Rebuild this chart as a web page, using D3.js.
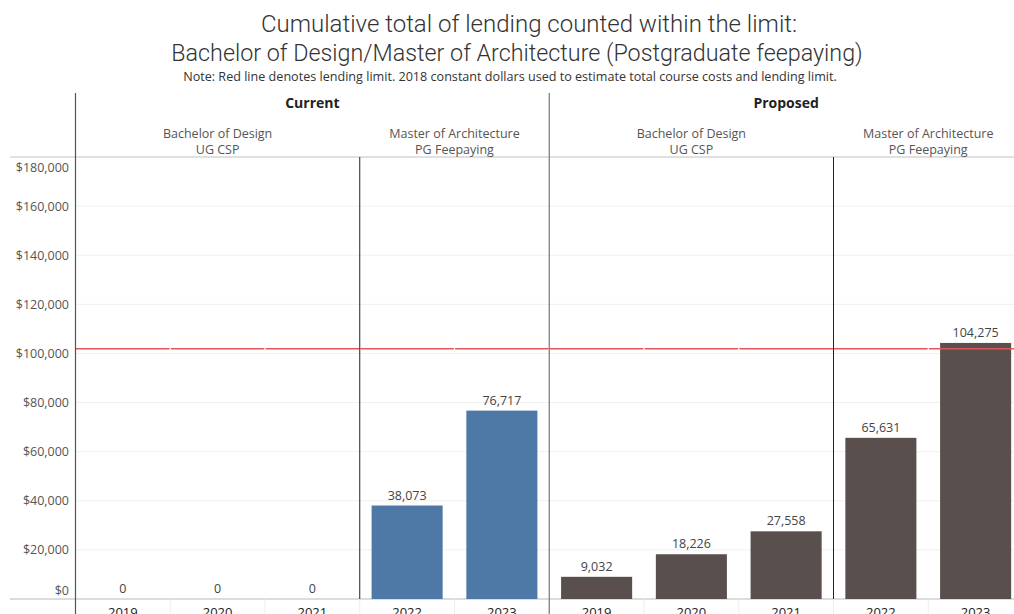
<!DOCTYPE html>
<html>
<head>
<meta charset="utf-8">
<script src="https://cdn.jsdelivr.net/npm/d3@7"></script>
<style>
  body { margin: 0; background: #fff; }
  svg { display: block; font-family: "Open Sans", "Noto Sans", sans-serif; }
</style>
</head>
<body>
<svg width="1014" height="614"></svg>
<script>
// data
var scenarios = ['Current', 'Proposed'];
var courses = ['Bachelor of Design', 'Master of Architecture'];
var courseTypes = ['UG CSP', 'PG Feepaying'];
var years = ['2019', '2020', '2021', '2022', '2023'];
var courseOfYear = [0, 0, 0, 1, 1];
var currentValues = [0, 0, 0, 38073, 76717];
var proposedValues = [9032, 18226, 27558, 65631, 104275];
var lendingLimit = 101900;
var yTicks = [0, 20000, 40000, 60000, 80000, 100000, 120000, 140000, 160000, 180000];

var svg = d3.select('svg');

var plotTop = 157, plotBottom = 599;
var colW = 94.75;
var left = 75.5;

// one flat list of columns, scenario x year
var cols = [];
scenarios.forEach(function(s, si) {
  var vals = si == 0 ? currentValues : proposedValues;
  years.forEach(function(y, yi) {
    cols.push({key: s + '|' + y, scenario: si, year: y, course: courseOfYear[yi], value: vals[yi]});
  });
});

var xScale = d3.scaleBand()
  .domain(cols.map(d => d.key))
  .range([left, left + colW * cols.length])
  .paddingInner(0.25)
  .paddingOuter(0.125);

var yScale = d3.scaleLinear()
  .domain([0, 180000])
  .range([plotBottom, plotTop]);

var colLeft = function(i) { return left + i * colW; };

// titles
svg.append('text')
  .attr('x', 529).attr('y', 32)
  .attr('text-anchor', 'middle')
  .style('font-family', 'Roboto').style('font-weight', 300)
  .style('font-size', '24px').attr('fill', '#333')
  .text('Cumulative total of lending counted within the limit:');
svg.append('text')
  .attr('x', 517).attr('y', 61)
  .attr('text-anchor', 'middle')
  .style('font-family', 'Roboto').style('font-weight', 300)
  .style('font-size', '23.3px').attr('fill', '#333')
  .text('Bachelor of Design/Master of Architecture (Postgraduate feepaying)');
svg.append('text')
  .attr('x', 510).attr('y', 81)
  .attr('text-anchor', 'middle')
  .style('font-size', '12.6px').attr('fill', '#333')
  .text('Note: Red line denotes lending limit. 2018 constant dollars used to estimate total course costs and lending limit.');

// gridlines
svg.append('g')
  .selectAll('line')
  .data(yTicks.slice(1))
  .enter()
  .append('line')
    .attr('x1', left).attr('x2', 1014)
    .attr('y1', d => yScale(d)).attr('y2', d => yScale(d))
    .attr('stroke', '#f0f0f0').attr('stroke-width', 1);

// header border + baseline
svg.append('line').attr('x1', 10).attr('x2', 1014).attr('y1', plotTop).attr('y2', plotTop)
  .attr('stroke', '#d9d9d9').attr('stroke-width', 1.5);
svg.append('line').attr('x1', 10).attr('x2', 1014).attr('y1', plotBottom).attr('y2', plotBottom)
  .attr('stroke', '#d0d0d0').attr('stroke-width', 1.5);

// little separators in the year header
svg.append('g')
  .selectAll('line')
  .data(d3.range(1, cols.length))
  .enter()
  .append('line')
    .attr('x1', d => colLeft(d)).attr('x2', d => colLeft(d))
    .attr('y1', plotBottom).attr('y2', 614)
    .attr('stroke', '#eee');

// y axis labels (first and last pulled inside like tableau does)
svg.append('g')
  .selectAll('text')
  .data(yTicks)
  .enter()
  .append('text')
    .attr('x', 69)
    .attr('y', d => {
      var y = yScale(d);
      if (d == 0) y = plotBottom - 9;
      if (d == 180000) y = plotTop + 10;
      return y + 4.5;
    })
    .attr('text-anchor', 'end')
    .style('font-size', '12.5px')
    .attr('fill', '#555')
    .text(d => d3.format('$,')(d));

// bars
svg.append('g')
  .selectAll('rect')
  .data(cols)
  .enter()
  .append('rect')
    .attr('x', d => xScale(d.key))
    .attr('y', d => yScale(d.value))
    .attr('width', xScale.bandwidth())
    .attr('height', d => yScale(0) - yScale(d.value))
    .attr('fill', d => d.scenario == 0 ? '#4e79a7' : '#594f4d');

// bar labels
svg.append('g')
  .selectAll('text')
  .data(cols)
  .enter()
  .append('text')
    .attr('x', d => xScale(d.key) + xScale.bandwidth() / 2)
    .attr('y', d => yScale(d.value) - 6)
    .attr('text-anchor', 'middle')
    .style('font-size', '12.5px')
    .attr('fill', '#444')
    .text(d => d3.format(',')(d.value));

// lending limit, one segment per column
svg.append('g')
  .selectAll('line')
  .data(cols)
  .enter()
  .append('line')
    .attr('x1', (d, i) => colLeft(i) + (i == 0 ? 0 : 0.6))
    .attr('x2', (d, i) => colLeft(i + 1) - 0.6)
    .attr('y1', yScale(lendingLimit)).attr('y2', yScale(lendingLimit))
    .attr('stroke', '#e15759').attr('stroke-width', 1.5);

// x labels (cut off at the bottom edge, as in the original)
svg.append('g')
  .selectAll('text')
  .data(cols)
  .enter()
  .append('text')
    .attr('x', d => xScale(d.key) + xScale.bandwidth() / 2)
    .attr('y', 617)
    .attr('text-anchor', 'middle')
    .style('font-size', '13px')
    .attr('fill', '#222')
    .text(d => d.year);

// panel dividers
svg.append('line').attr('x1', left).attr('x2', left).attr('y1', 93).attr('y2', 614)
  .attr('stroke', '#555').attr('stroke-width', 1.2);
svg.append('line').attr('x1', colLeft(5)).attr('x2', colLeft(5)).attr('y1', 93).attr('y2', 614)
  .attr('stroke', '#777').attr('stroke-width', 1.2);
[3, 8].forEach(function(i) {
  svg.append('line').attr('x1', colLeft(i)).attr('x2', colLeft(i)).attr('y1', plotTop).attr('y2', plotBottom)
    .attr('stroke', '#222').attr('stroke-width', 1);
});

// scenario headers
svg.append('g')
  .selectAll('text')
  .data(scenarios)
  .enter()
  .append('text')
    .attr('x', (d, i) => (colLeft(i * 5) + colLeft(i * 5 + 5)) / 2)
    .attr('y', 108)
    .attr('text-anchor', 'middle')
    .style('font-size', '14px').style('font-weight', 700)
    .attr('fill', '#222')
    .text(d => d);

// course headers
var courseCells = [];
scenarios.forEach(function(s, si) {
  courses.forEach(function(c, ci) {
    var idx = cols.map((d, i) => i).filter(i => cols[i].scenario == si && cols[i].course == ci);
    courseCells.push({name: c, type: courseTypes[ci], x0: colLeft(idx[0]), x1: colLeft(idx[idx.length - 1] + 1)});
  });
});
var ch = svg.append('g')
  .selectAll('g')
  .data(courseCells)
  .enter()
  .append('g');
ch.append('text')
  .attr('x', d => (d.x0 + d.x1) / 2)
  .attr('y', 138)
  .attr('text-anchor', 'middle')
  .style('font-size', '12.5px').attr('fill', '#555')
  .text(d => d.name);
ch.append('text')
  .attr('x', d => (d.x0 + d.x1) / 2)
  .attr('y', 154)
  .attr('text-anchor', 'middle')
  .style('font-size', '12.5px').attr('fill', '#555')
  .text(d => d.type);
</script>
</body>
</html>
